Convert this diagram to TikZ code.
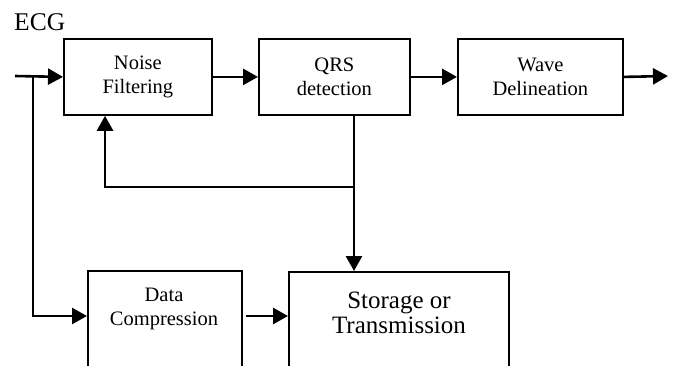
\documentclass[tikz,border=0pt]{standalone}
\usepackage{fontspec}
\setmainfont{Liberation Serif}
\usetikzlibrary{arrows.meta,calc}
\begin{document}
\begin{tikzpicture}[x=1pt,y=-1pt,
  box/.style={draw,line width=1.8pt,inner sep=0pt},
  lbl/.style={align=center,inner sep=0pt,font=\fontsize{20.5}{23.5}\selectfont},
  biglbl/.style={align=center,inner sep=0pt,font=\fontsize{25}{25.5}\selectfont},
  conn/.style={line width=2.6pt,-{Triangle[length=15pt,width=16pt]}},
  wire/.style={line width=2.6pt}]
\clip (0,0) rectangle (675,365);
\fill[white] (0,0) rectangle (675,365);
% boxes
\node[box,lbl,minimum width=148pt,minimum height=76pt,anchor=north west] (nf) at (63,38) {Noise\\Filtering};
\node[box,lbl,minimum width=151pt,minimum height=76pt,anchor=north west] (qrs) at (258,38) {QRS\\detection};
\node[box,lbl,minimum width=165pt,minimum height=76pt,anchor=north west] (wd) at (457,38) {Wave\\Delineation};
\node[box,minimum width=154pt,minimum height=130pt,anchor=north west] (dc) at (87,270) {};
\node[box,minimum width=220pt,minimum height=130pt,anchor=north west] (st) at (288,271) {};
% texts
\node[lbl] (dct) at (164,309) {Data\\Compression};
\node[biglbl] (stt) at (399,313) {Storage or\\Transmission};
\node[anchor=base west,inner sep=0pt,font=\fontsize{25.5}{25.5}\selectfont] (ecg) at (14,30) {ECG};
% coordinates
\coordinate (in) at (15,76);
\coordinate (out) at (668,76);
\coordinate (br) at (33,76);
\coordinate (low) at (0,316);
\coordinate (fb) at (354,187);
\coordinate (fbl) at (105,187);
% connectors
\draw[conn] (in) -- (nf.west);
\draw[conn] (nf.east) -- (qrs.west);
\draw[conn] (qrs.east) -- (wd.west);
\draw[conn] (wd.east) -- (out);
\draw[conn] (br) -- (br |- low) -- (dc.west |- low);
\draw[wire] (fb |- qrs.south) -- (fb);
\draw[conn] (fb) -- (fbl) -- (fbl |- nf.south);
\draw[conn] (fb) -- (fb |- st.north);
\draw[conn] ($(dc.east |- low)+(3,0)$) -- (st.west |- low);
\end{tikzpicture}
\end{document}
